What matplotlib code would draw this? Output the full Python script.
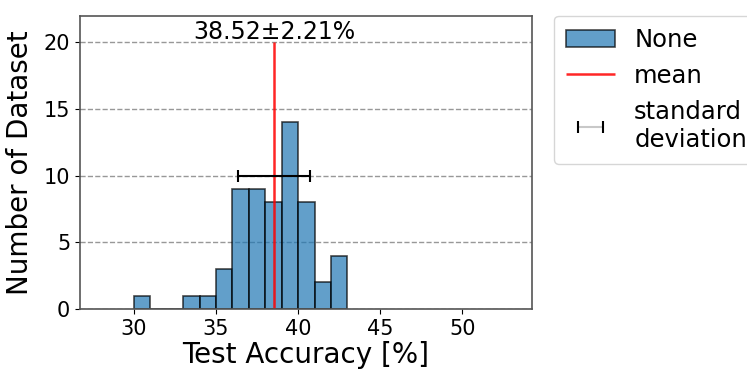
import matplotlib
matplotlib.use("Agg")
import matplotlib.pyplot as plt
from matplotlib.collections import LineCollection

# Histogram of test accuracy over datasets
bin_left = [30, 31, 32, 33, 34, 35, 36, 37, 38, 39, 40, 41, 42]
counts = [1, 0, 0, 1, 1, 3, 9, 9, 8, 14, 8, 2, 4]
bin_width = 1.0
mean_acc = 38.52
std_acc = 2.21
std_level = 10

fig = plt.figure(figsize=(7.47, 3.70), dpi=100)
ax = fig.add_axes([0.107, 0.165, 0.605, 0.793])

ax.yaxis.grid(True, linestyle="--", color="#7f7f7f", linewidth=1.0, alpha=0.8)
ax.set_axisbelow(True)

bars = ax.bar(bin_left, counts, width=bin_width, align="edge", color="#1f77b4",
              edgecolor="black", linewidth=1.2, alpha=0.7, label="None")
mline = ax.vlines(mean_acc, 0, 20, color="red", linewidth=1.8, alpha=0.85,
                  label="mean")
ebar = ax.errorbar(mean_acc, std_level, xerr=std_acc, fmt="none", ecolor="black",
                   elinewidth=1.5, capsize=4, capthick=1.5,
                   label="standard\ndeviation")
ax.text(mean_acc, 20.25, f"{mean_acc:.2f}±{std_acc:.2f}%", ha="center",
        va="baseline", fontsize=17)

ax.set_xlim(26.7, 54.25)
ax.set_ylim(0, 22)
ax.set_xticks([30, 35, 40, 45, 50])
ax.set_yticks([0, 5, 10, 15, 20])
ax.tick_params(labelsize=15)
for s in ax.spines.values():
    s.set_color("#555555")
    s.set_linewidth(1.2)
ax.set_xlabel("Test Accuracy [%]", fontsize=20, labelpad=2)
ax.set_ylabel("Number of Dataset", fontsize=20, labelpad=7)

leg = fig.legend([bars, mline, ebar], ["None", "mean", "standard\ndeviation"],
                 loc="upper left", bbox_to_anchor=(0.7416, 0.958),
                 borderaxespad=0, fontsize=17.5, frameon=True,
                 handlelength=2.0, borderpad=0.5, labelspacing=0.5)
leg.get_frame().set_edgecolor("#cccccc")
for lc in leg.findobj(LineCollection):
    if lc is not mline:
        lc.set_color("#c8c8c8")

fig.savefig("out.png", dpi=100)
